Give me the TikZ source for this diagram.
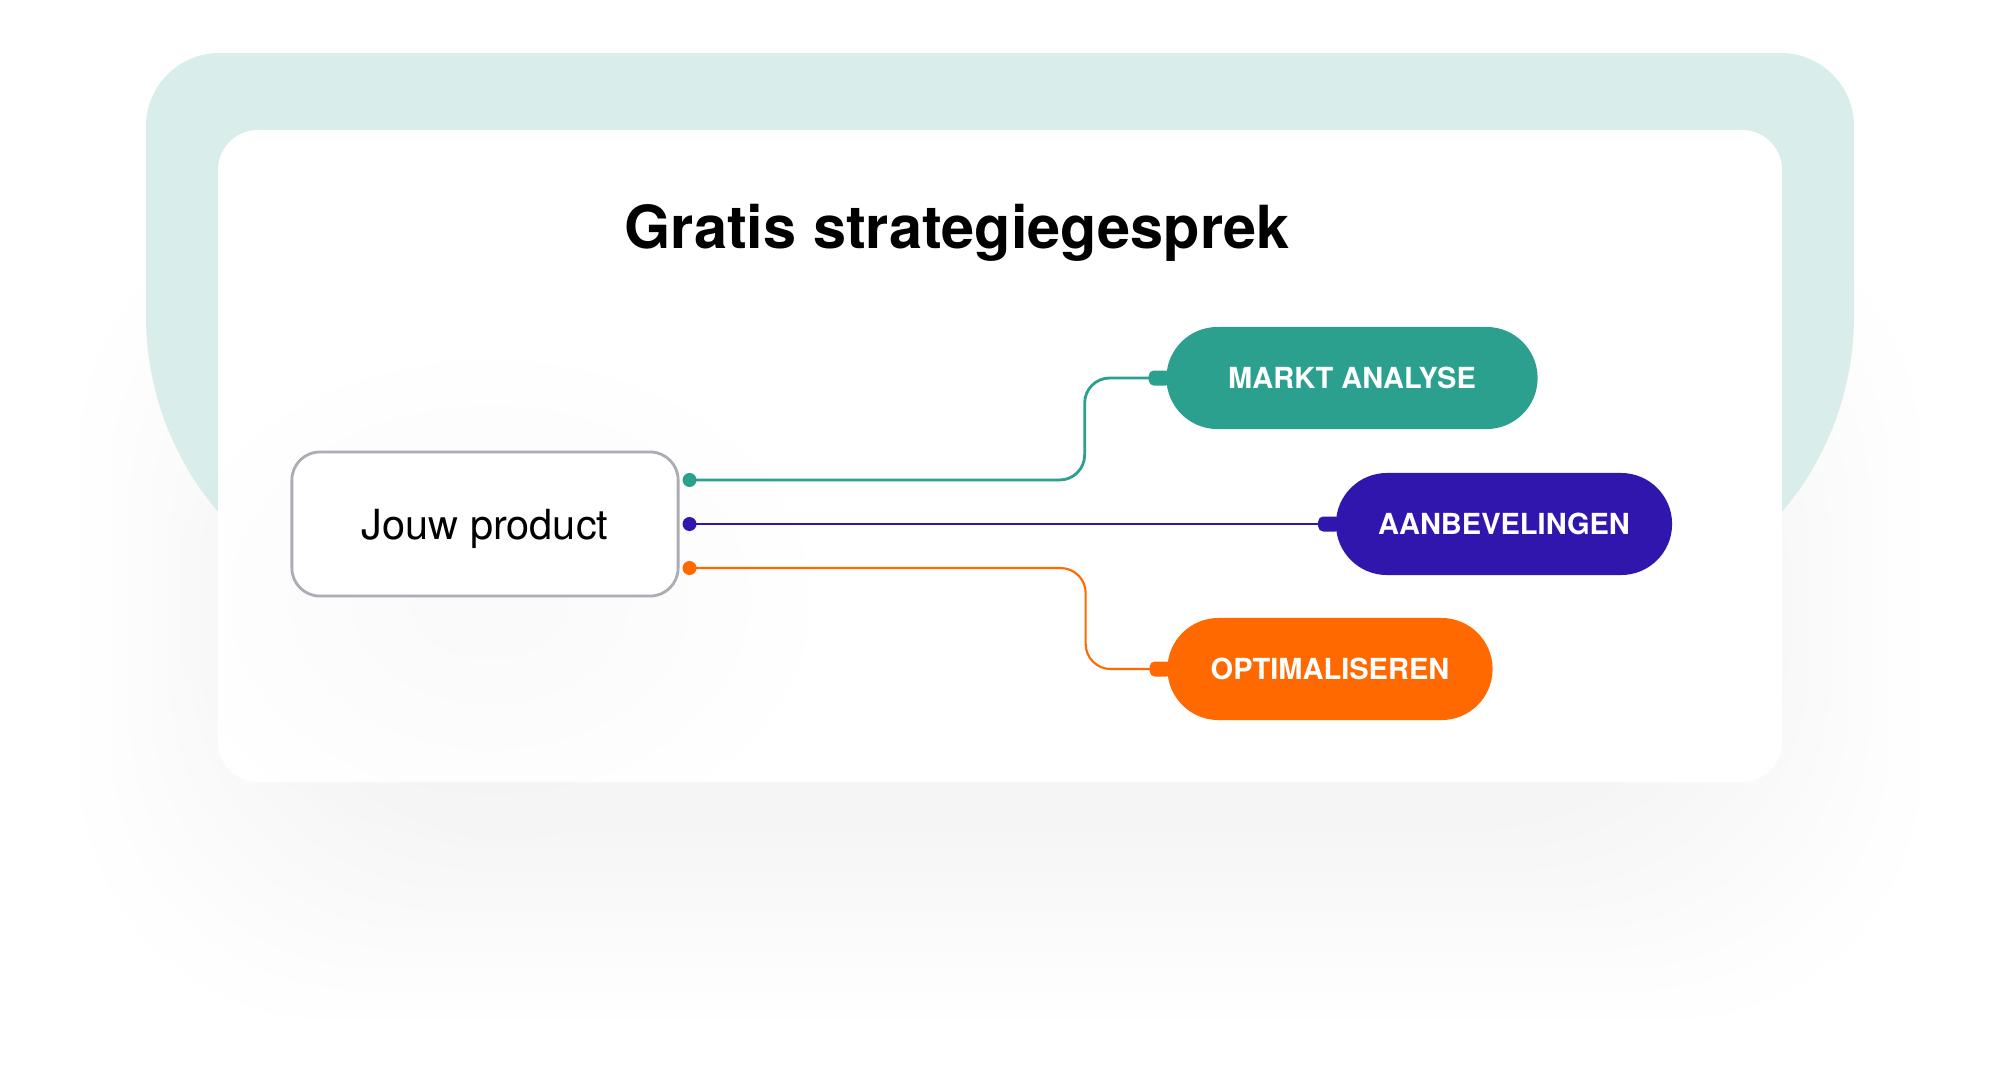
\documentclass[tikz,border=0pt]{standalone}
\usepackage{fontspec}
\setmainfont{TeX Gyre Heros}
\usetikzlibrary{calc}

\definecolor{tealbg}{RGB}{217,237,234}
\definecolor{tealc}{RGB}{44,160,142}
\definecolor{indigoc}{RGB}{49,22,174}
\definecolor{orangec}{RGB}{255,105,0}
\definecolor{boxgray}{RGB}{172,172,180}

\tikzset{
  pill/.style={rounded corners=0.51cm, minimum height=1.02cm, inner sep=0pt,
    text=white, font=\fontsize{8.25}{10}\selectfont\bfseries},
  tab/.style={rounded corners=0.05cm},
}

\begin{document}
\begin{tikzpicture}[x=0.01cm, y=-0.01cm]
	\useasboundingbox (0,0) rectangle (2000,1087);
	
	% Тень карточки
	\foreach \i in {0,...,19}
		\fill[black!50, opacity=0.004, rounded corners=2.5cm]
			(80+10*\i,200+10*\i) rectangle (1920-10*\i,1020-10*\i);
	
	% Фон
	\fill[tealbg] (146,316) -- (146,126) .. controls (146,86) and (179,53) .. (219,53)
		-- (1781,53) .. controls (1821,53) and (1854,86) .. (1854,126)
		-- (1854,316) .. controls (1854,483) and (1718,619) .. (1551,619)
		-- (449,619) .. controls (282,619) and (146,483) .. (146,316) -- cycle;
	
	% Карточка
	\fill[white, rounded corners=0.4cm] (218,130) rectangle (1782,782);
	\foreach \s in {0.8,1.4,...,3.2}
		\fill[black!50, opacity=0.004] (490,600) ellipse [x radius=\s cm, y radius=0.75*\s cm];
	
	% Заголовок
	\node[anchor=base, font=\fontsize{16.9}{20}\selectfont\bfseries] (title) at (957,248) {Gratis strategiegesprek};
	
	% Блоки
	\node[draw=boxgray, line width=0.8pt, fill=white, rounded corners=0.28cm, text depth=0pt,
		minimum width=3.86cm, minimum height=1.44cm, font=\fontsize{11.8}{13}\selectfont] (product) at (485,524) {Jouw product};
	\node[pill, fill=tealc, minimum width=3.71cm] (markt) at (1352,378) {MARKT ANALYSE};
	\node[pill, fill=indigoc, minimum width=3.36cm] (advies) at (1504,524) {AANBEVELINGEN};
	\node[pill, fill=orangec, minimum width=3.25cm] (optim) at (1330,669) {OPTIMALISEREN};
	
	% Точки на блоке
	\coordinate (pT) at ([xshift=0.1cm, yshift=0.44cm]product.east);
	\coordinate (pB) at ([xshift=0.1cm]product.east);
	\coordinate (pO) at ([xshift=0.1cm, yshift=-0.44cm]product.east);
	
	% Линии
	\draw[tealc, line width=0.8pt, rounded corners=0.25cm] (pT) -| ([xshift=-0.81cm]markt.west) -- (markt.west);
	\draw[indigoc, line width=0.8pt] (pB) -- (advies.west);
	\draw[orangec, line width=0.6pt, rounded corners=0.25cm] (pO) -| ([xshift=-0.81cm]optim.west) -- (optim.west);
	
	\fill[tealc] (pT) circle[radius=0.07cm];
	\fill[indigoc] (pB) circle[radius=0.07cm];
	\fill[orangec] (pO) circle[radius=0.07cm];
	
	\fill[tealc, tab] ([xshift=-0.17cm, yshift=-0.075cm]markt.west) rectangle ([xshift=0.05cm, yshift=0.075cm]markt.west);
	\fill[indigoc, tab] ([xshift=-0.17cm, yshift=-0.075cm]advies.west) rectangle ([xshift=0.05cm, yshift=0.075cm]advies.west);
	\fill[orangec, tab] ([xshift=-0.17cm, yshift=-0.075cm]optim.west) rectangle ([xshift=0.05cm, yshift=0.075cm]optim.west);
\end{tikzpicture}
\end{document}
